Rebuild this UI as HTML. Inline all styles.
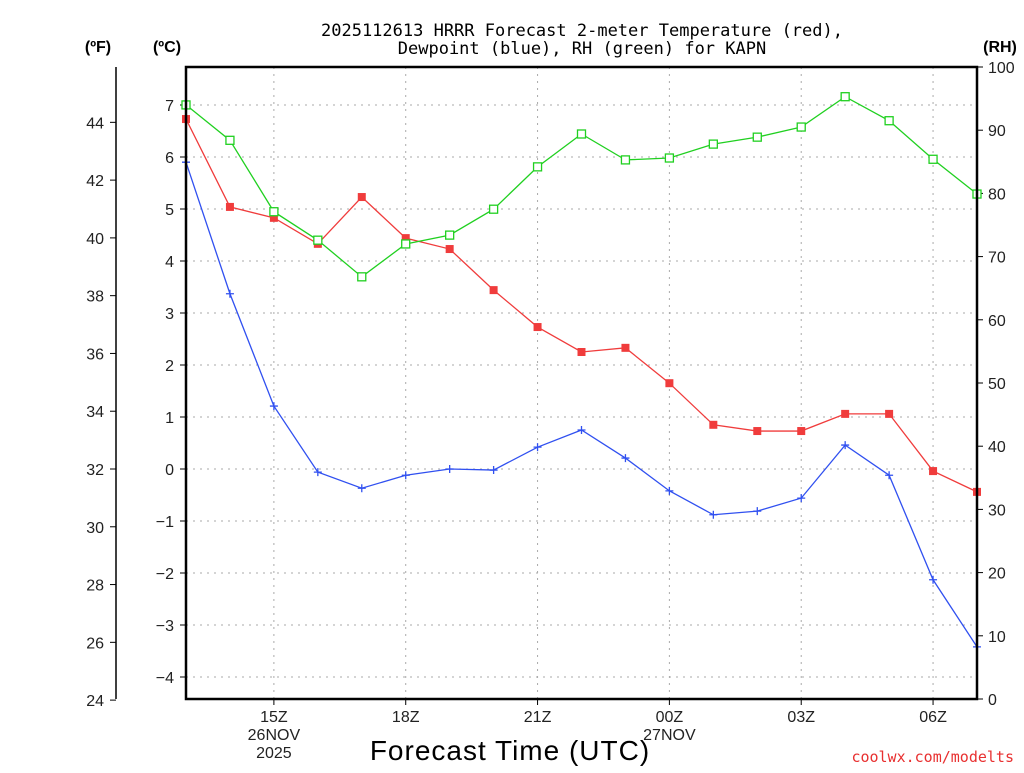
<!DOCTYPE html>
<html><head><meta charset="utf-8"><style>
body{margin:0;background:#fff;}
svg text{font-family:"Liberation Sans",sans-serif;}
</style></head><body>
<svg id="chart" width="1024" height="768" xmlns="http://www.w3.org/2000/svg">
<text x="582" y="36" font-size="17" text-anchor="middle" style="font-family:'DejaVu Sans Mono','Liberation Mono',monospace">2025112613 HRRR Forecast 2-meter Temperature (red),</text>
<text x="582" y="54" font-size="17" text-anchor="middle" style="font-family:'DejaVu Sans Mono','Liberation Mono',monospace">Dewpoint (blue), RH (green) for KAPN</text>
<text x="98" y="52" font-size="16" font-weight="bold" text-anchor="middle">(ºF)</text>
<text x="167" y="52" font-size="16" font-weight="bold" text-anchor="middle">(ºC)</text>
<text x="1000" y="52" font-size="16" font-weight="bold" text-anchor="middle">(RH)</text>
<text x="510" y="760" font-size="28" text-anchor="middle" letter-spacing="1">Forecast Time (UTC)</text>
<text x="1014" y="762" font-size="15" fill="#e83030" text-anchor="end" style="font-family:'DejaVu Sans Mono','Liberation Mono',monospace">coolwx.com/modelts</text>
<g id="grid"></g><g id="axes"></g><g id="series"></g>
<rect x="186" y="67" width="791" height="632" fill="none" stroke="#000" stroke-width="2.5"/>
</svg>
<script>
const hours=[13,14,15,16,17,18,19,20,21,22,23,24,25,26,27,28,29,30,31];
const tempC=[6.73,5.04,4.83,4.33,5.23,4.44,4.23,3.44,2.73,2.25,2.33,1.65,0.85,0.73,0.73,1.06,1.06,-0.04,-0.44];
const dewC=[5.90,3.37,1.21,-0.06,-0.37,-0.12,0,-0.02,0.42,0.75,0.21,-0.42,-0.88,-0.81,-0.56,0.46,-0.12,-2.13,-3.42];
const rh=[94.0,88.4,77.1,72.6,66.8,72.0,73.4,77.5,84.2,89.4,85.3,85.6,87.8,88.9,90.5,95.3,91.5,85.4,79.9];
const cTicks=[-4,-3,-2,-1,0,1,2,3,4,5,6,7];
const fTicks=[24,26,28,30,32,34,36,38,40,42,44];
const rhTicks=[0,10,20,30,40,50,60,70,80,90,100];
const xTickHours=[15,18,21,24,27,30];
const xTickLabels=[["15Z","26NOV","2025"],["18Z"],["21Z"],["00Z","27NOV"],["03Z"],["06Z"]];
const NS="http://www.w3.org/2000/svg";
const L=186,R=977,T=67,B=699;
const x=h=>L+(h-13)*(R-L)/18;
const yC=c=>469-c*52;
const yF=f=>yC((f-32)/1.8);
const yR=r=>B-r*(B-T)/100;
function mk(tag,at,parent){const e=document.createElementNS(NS,tag);for(const k in at)e.setAttribute(k,at[k]);parent.appendChild(e);return e;}
const grid=document.getElementById('grid'),axes=document.getElementById('axes'),ser=document.getElementById('series');
cTicks.forEach(c=>{
 const g=mk('line',{x1:L,x2:R,y1:yC(c),y2:yC(c),stroke:'#aaa','stroke-dasharray':'2,5'},grid);
 
 const t=mk('line',{x1:L-6,x2:L,y1:yC(c),y2:yC(c),stroke:'#000'},axes);
 
 const l=mk('text',{x:L-12,y:yC(c)+6,'font-size':16,'text-anchor':'end',fill:'#222'},axes);
 l.textContent=c<0?'−'+Math.abs(c):c;
 
});
const fa=mk('line',{x1:116,x2:116,y1:T,y2:B,stroke:'#000','stroke-width':1.5},axes);

fTicks.forEach(f=>{
 const t=mk('line',{x1:110,x2:116,y1:yF(f),y2:yF(f),stroke:'#000'},axes);
 
 const l=mk('text',{x:104,y:yF(f)+6,'font-size':16,'text-anchor':'end',fill:'#222'},axes);
 l.textContent=f;
 
});
rhTicks.forEach(r=>{
 const t=mk('line',{x1:R,x2:R+6,y1:yR(r),y2:yR(r),stroke:'#000'},axes);
 
 const l=mk('text',{x:988,y:yR(r)+6,'font-size':16,fill:'#222'},axes);
 l.textContent=r;
 
});
xTickHours.forEach((h,i)=>{
 const g=mk('line',{x1:x(h),x2:x(h),y1:T,y2:B,stroke:'#aaa','stroke-dasharray':'2,5'},grid);
 
 const t=mk('line',{x1:x(h),x2:x(h),y1:B,y2:B+6,stroke:'#000'},axes);
 
 xTickLabels[i].forEach((s,j)=>{
  const l=mk('text',{x:x(h),y:722+j*18,'font-size':16,'text-anchor':'middle',fill:'#222'},axes);
  l.textContent=s;
  
 });
});
function line(vals,yf,col,name){
 const p=mk('polyline',{points:vals.map((v,i)=>x(hours[i])+','+yf(v)).join(' '),fill:'none',stroke:col,'stroke-width':1.3},ser);
 
}
line(tempC,yC,'#f03c3c','temperature');
line(dewC,yC,'#3050f0','dewpoint');
line(rh,yR,'#20d020','rh');
tempC.forEach((v,i)=>{const m=mk('rect',{x:x(hours[i])-4,y:yC(v)-4,width:8,height:8,fill:'#f03c3c'},ser);
 });
dewC.forEach((v,i)=>{const cx=x(hours[i]),cy=yC(v);const m=mk('path',{d:`M${cx-4},${cy}H${cx+4}M${cx},${cy-4}V${cy+4}`,stroke:'#3050f0','stroke-width':1.3},ser);
 });
rh.forEach((v,i)=>{const m=mk('rect',{x:x(hours[i])-4,y:yR(v)-4,width:8,height:8,fill:'#fff',stroke:'#20d020','stroke-width':1.3},ser);
 });
</script>
</body></html>
